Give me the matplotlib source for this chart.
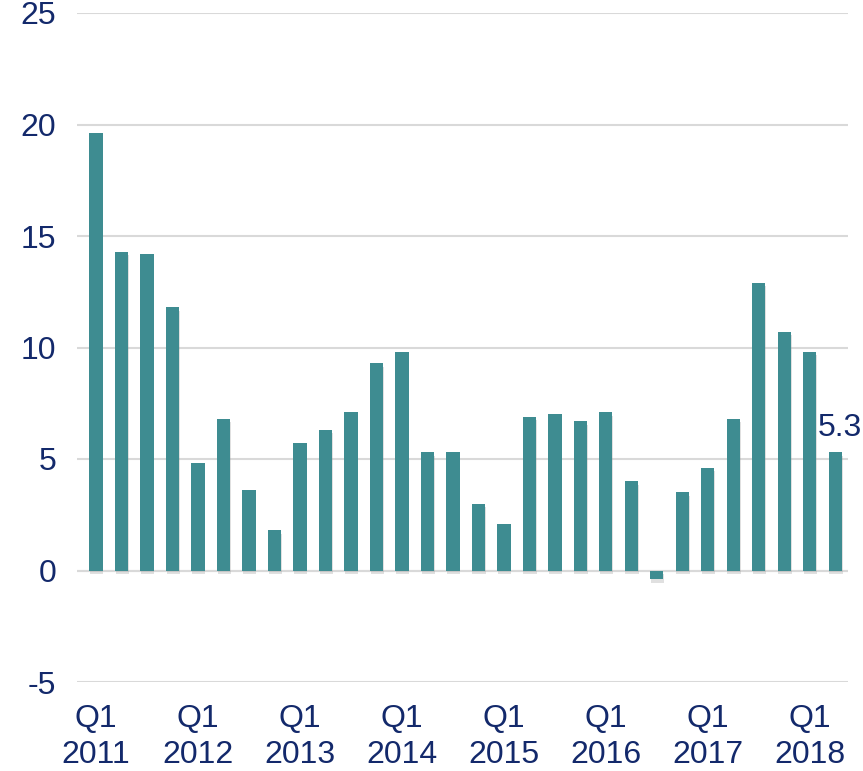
import matplotlib
matplotlib.use("Agg")
import matplotlib.pyplot as plt
import matplotlib.patheffects as pe
import numpy as np

years = [2011, 2012, 2013, 2014, 2015, 2016, 2017, 2018]
values = [19.6, 14.3, 14.2, 11.8,
          4.8, 6.8, 3.6, 1.8,
          5.7, 6.3, 7.1, 9.3,
          9.8, 5.3, 5.3, 3.0,
          2.1, 6.9, 7.0, 6.7,
          7.1, 4.0, -0.4, 3.5,
          4.6, 6.8, 12.9, 10.7,
          9.8, 5.3]
tick_labels = [f"Q1\n{y}" for y in years]
last_label = "5.3"

plt.rcParams['font.family'] = ['Liberation Sans', 'DejaVu Sans']
plt.rcParams['axes.unicode_minus'] = False
navy = '#13296B'
bar_color = '#3E8C91'

fig = plt.figure(figsize=(8.63, 7.71), dpi=100)
ax = fig.add_axes([77/863, 1-682/771, (848-77)/863, (682-13)/771])

x = np.arange(len(values))
bars = ax.bar(x, values, width=0.52, color=bar_color, zorder=3)
for b in bars:
    b.set_path_effects([pe.SimplePatchShadow(offset=(0.5, -2.5), shadow_rgbFace='#999999', alpha=0.3), pe.Normal()])

ax.set_ylim(-5, 25)
ax.set_xlim(-0.75, 29.5)
ax.set_yticks([-5, 0, 5, 10, 15, 20, 25])
ax.set_xticks(x[::4])
ax.set_xticklabels(tick_labels, linespacing=1.25)
ax.grid(axis='y', color='#D9D9D9', linewidth=1.5, zorder=0)
ax.axhline(0, color='#D9D9D9', linewidth=1.5, zorder=1)
for s in ax.spines.values():
    s.set_visible(False)
ax.tick_params(axis='both', length=0, labelsize=23, labelcolor=navy)
ax.tick_params(axis='y', pad=15)
ax.tick_params(axis='x', pad=16)

ax.text(x[-1] + 0.2, values[-1] + 0.4, last_label, ha='center', va='bottom',
        fontsize=23, color=navy, zorder=4)

fig.savefig("out.png", dpi=100)
